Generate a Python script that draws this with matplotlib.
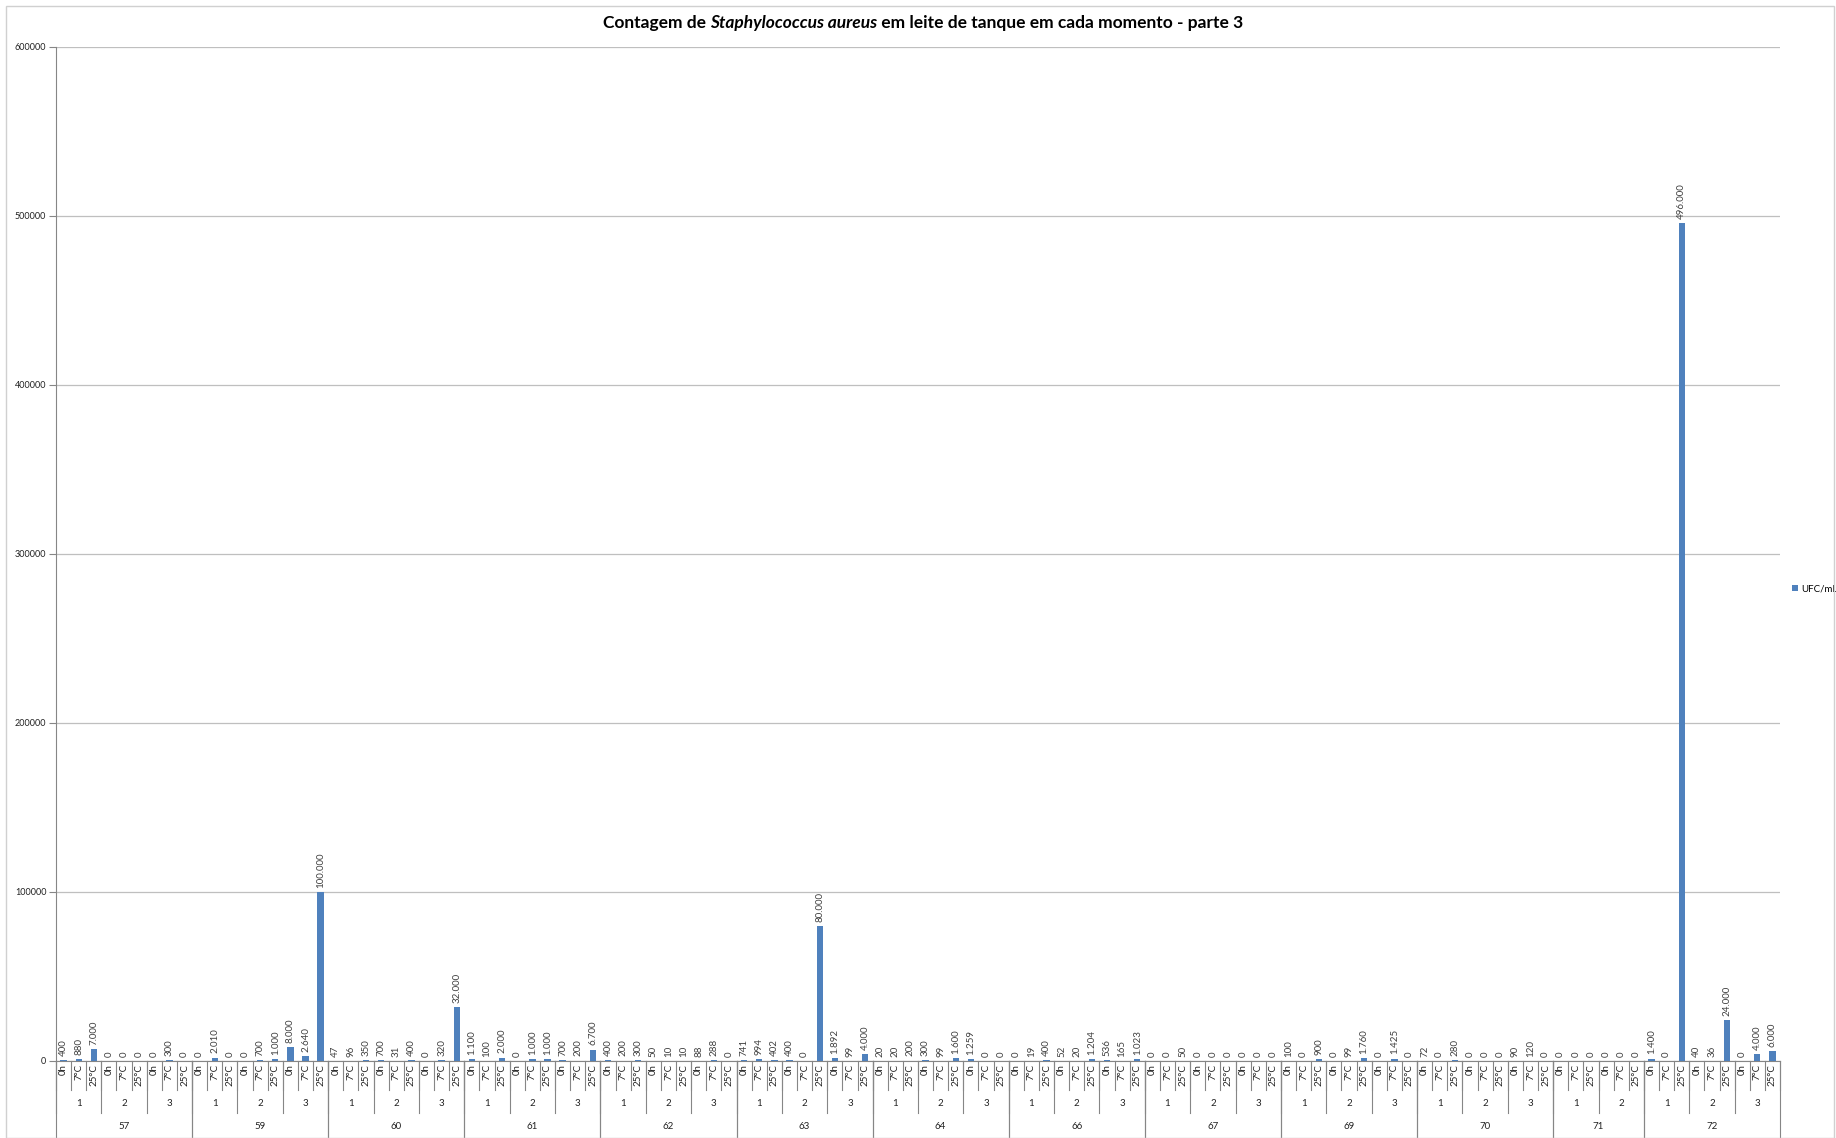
import matplotlib.pyplot as plt
from matplotlib.patches import Rectangle
import numpy as np

plt.rcParams['font.family'] = ['Lato', 'DejaVu Sans']

# Chart data
groups = ['57', '59', '60', '61', '62', '63', '64', '66', '67', '69', '70', '71', '72']
n_sub = [3, 3, 3, 3, 3, 3, 3, 3, 3, 3, 3, 2, 3]
moments = ['0h', '7°C', '25°C']
ufc_ml = [
    400, 880, 7000, 0, 0, 0, 0, 300, 0,                # 57
    0, 2010, 0, 0, 700, 1000, 8000, 2640, 100000,      # 59
    47, 96, 350, 700, 31, 400, 0, 320, 32000,          # 60
    1100, 100, 2000, 0, 1000, 1000, 700, 200, 6700,    # 61
    400, 200, 300, 50, 10, 10, 88, 288, 0,             # 62
    741, 994, 402, 400, 0, 80000, 1892, 99, 4000,      # 63
    20, 20, 200, 300, 99, 1600, 1259, 0, 0,            # 64
    0, 19, 400, 52, 20, 1204, 536, 165, 1023,          # 66
    0, 0, 50, 0, 0, 0, 0, 0, 0,                        # 67
    100, 0, 900, 0, 99, 1760, 0, 1425, 0,              # 69
    72, 0, 280, 0, 0, 0, 90, 120, 0,                   # 70
    0, 0, 0, 0, 0, 0,                                  # 71
    1400, 0, 496000, 40, 36, 24000, 0, 4000, 6000,     # 72
]
series_name = 'UFC/mL'

# build the category hierarchy
moment_labels = []
sub_spans = []    # (start, end, label)
group_spans = []  # (start, end, label)
pos = 0
for g, ns in zip(groups, n_sub):
    g_start = pos
    for s in range(1, ns + 1):
        sub_spans.append((pos, pos + 3, str(s)))
        moment_labels.extend(moments)
        pos += 3
    group_spans.append((g_start, pos, g))

x = np.arange(len(ufc_ml))

fig = plt.figure(figsize=(18.36, 11.38), dpi=100)
ax = fig.add_axes([0.0305, 0.0677, 0.939, 0.891])

bars = ax.bar(x, ufc_ml, width=0.42, color='#4F81BD', zorder=3)

for xi, v in zip(x, ufc_ml):
    ax.annotate(f'{v:,}'.replace(',', '.'), (xi, v), xytext=(0, 3),
                textcoords='offset points', rotation=90, ha='center',
                va='bottom', fontsize=7, color='#404040')

ax.set_xlim(-0.5, len(ufc_ml) - 0.5)
ax.set_ylim(0, 600000)
ax.set_yticks(range(0, 600001, 100000))
ax.set_yticklabels([str(t) for t in range(0, 600001, 100000)], fontsize=6.5)
ax.tick_params(axis='y', length=5, color='#868686', labelcolor='#222222', pad=2)
ax.set_xticks([])
ax.grid(axis='y', color='#bfbfbf', linewidth=0.9, zorder=0)
for s in ['top', 'right']:
    ax.spines[s].set_visible(False)
ax.spines['left'].set_color('#868686')
ax.spines['bottom'].set_color('#868686')

# multi-level category axis
tr = ax.get_xaxis_transform()
h = 1014.0
y_l1 = -29 / h
y_l2 = -52 / h
y_l3 = -77 / h
for i, lab in enumerate(moment_labels):
    ax.text(i, -3 / h, lab, transform=tr, rotation=90, ha='center', va='top',
            fontsize=7, color='#222222')
for i in range(len(ufc_ml) + 1):
    ax.plot([i - 0.5, i - 0.5], [0, y_l1], transform=tr, color='#868686',
            lw=0.8, clip_on=False)
for a, b, lab in sub_spans:
    ax.text((a + b - 1) / 2, -43 / h, lab, transform=tr, ha='center',
            va='center', fontsize=7, color='#222222')
    ax.plot([a - 0.5, a - 0.5], [0, y_l2], transform=tr, color='#868686',
            lw=0.8, clip_on=False)
for a, b, lab in group_spans:
    ax.text((a + b - 1) / 2, -66 / h, lab, transform=tr, ha='center',
            va='center', fontsize=7, color='#222222')
    ax.plot([a - 0.5, a - 0.5], [0, y_l3], transform=tr, color='#868686',
            lw=0.8, clip_on=False)
    ax.plot([b - 0.5, b - 0.5], [0, y_l3], transform=tr, color='#868686',
            lw=0.8, clip_on=False)

ax.legend([bars], [series_name], loc='center left', bbox_to_anchor=(1.002, 0.4655),
          frameon=False, fontsize=7, handlelength=0.6, handleheight=0.6,
          handletextpad=0.3)

# title with italic species name
t1 = fig.text(0.3, 1 - 23 / 1138, 'Contagem de ', fontsize=12.5, weight='bold',
              va='center')
t2 = ax.annotate('Staphylococcus aureus', xy=(1, 0), xycoords=t1, va='bottom',
                 fontsize=12.5, weight='bold', style='italic')
t3 = ax.annotate(' em leite de tanque em cada momento - parte 3', xy=(1, 0),
                 xycoords=t2, va='bottom', fontsize=12.5, weight='bold')
fig.canvas.draw()
r = fig.canvas.get_renderer()
x0 = t1.get_window_extent(r).x0
x1 = t3.get_window_extent(r).x1
shift = 923 - (x0 + x1) / 2
t1.set_x(0.3 + shift / 1836)

fig.patches.append(Rectangle((0.003, 0.0), 0.996, 0.995, transform=fig.transFigure,
                             fill=False, edgecolor='#d0d0d0', linewidth=1))

fig.savefig('out.png', dpi=100)
